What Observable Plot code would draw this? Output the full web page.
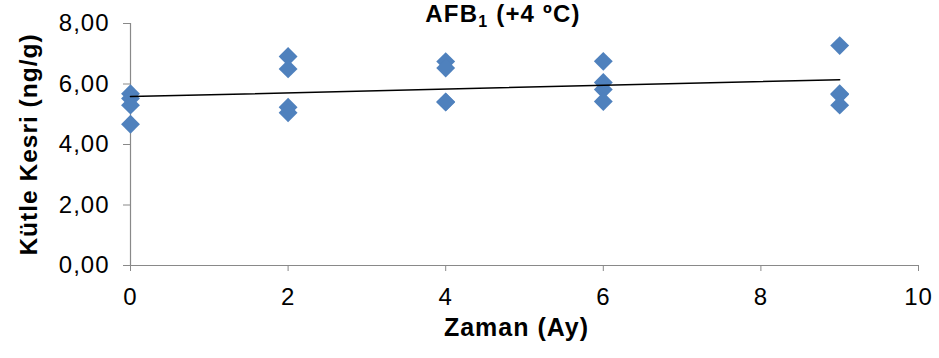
<!DOCTYPE html>
<html><head><meta charset="utf-8">
<script src="https://cdn.jsdelivr.net/npm/d3@7"></script>
<script src="https://cdn.jsdelivr.net/npm/@observablehq/plot@0.6"></script>
<style>
body{margin:0;background:#fff}
#wrap{position:relative;width:939px;height:358px;font-family:"Liberation Sans",Arial,sans-serif}
#title{position:absolute;top:2px;left:0;width:1006px;text-align:center;font-weight:bold;font-size:24px;line-height:24px;letter-spacing:1.2px;color:#000}
#title sub{font-size:16px;vertical-align:baseline;position:relative;top:5px;line-height:0}
</style></head>
<body><div id="wrap"><div id="title">AFB<sub>1</sub> (+4 ºC)</div></div>
<script>
const months = [0,0,0,0, 2,2,2,2, 4,4,4,4, 6,6,6,6, 9,9,9,9];
const mass = [5.68,5.52,5.30,4.67, 6.91,6.50,5.23,5.05, 6.74,6.53,5.41,5.40, 6.75,6.05,5.82,5.42, 7.27,5.68,5.65,5.30];
const xTicks = [0,2,4,6,8,10];
const yTicks = [0,2,4,6,8];
const xTitle = "Zaman (Ay)";
const yTitle = "Kütle Kesri (ng/g)";

const data = months.map((m, i) => ({m, v: mass[i]}));
const fmt = d => d.toFixed(2).replace(".", ",");

const chart = Plot.plot({
  width: 939, height: 358,
  marginLeft: 130, marginRight: 21, marginTop: 23, marginBottom: 93,
  style: {fontFamily: "Liberation Sans, Arial, sans-serif", fontSize: "24px", color: "#000", letterSpacing: "1px", background: "#fff"},
  x: {domain: [0, 10]},
  y: {domain: [0, 8]},
  marks: [
    Plot.ruleX([0], {stroke: "#898989", strokeWidth: 1.2}),
    Plot.ruleY([0], {stroke: "#898989", strokeWidth: 1.2}),
    Plot.axisY({ticks: yTicks, tickFormat: fmt, tickSize: 7, tickPadding: 14, stroke: "#898989", fill: "#000", label: null}),
    Plot.axisX({ticks: xTicks, tickFormat: d => String(d), tickSize: 6, tickPadding: 16, stroke: "#898989", fill: "#000", label: null}),
    Plot.dot(data, {x: "m", y: "v", symbol: "diamond2", r: 8.5, fill: "#4F81BD"}),
    Plot.linearRegressionY(data, {x: "m", y: "v", ci: 0, stroke: "#000", strokeWidth: 1.5}),
    Plot.text([yTitle], {text: d => d, frameAnchor: "left", dx: -101, rotate: -90, textAnchor: "middle", fontWeight: "bold", fontSize: 24.5}),
    Plot.text([xTitle], {text: d => d, frameAnchor: "bottom", dy: 70, dx: -8, textAnchor: "middle", fontWeight: "bold", fontSize: 25})
  ]
});
document.getElementById("wrap").prepend(chart);
</script>
</body></html>
